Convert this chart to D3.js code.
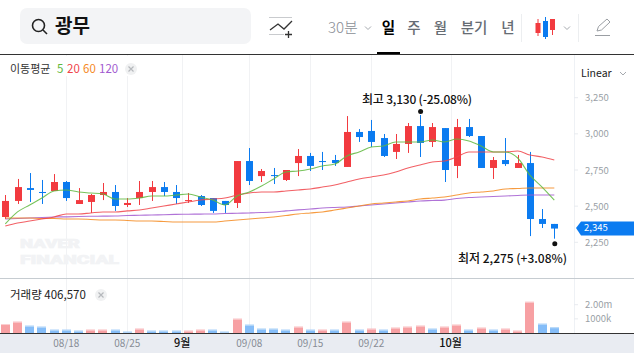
<!DOCTYPE html>
<html><head><meta charset="utf-8">
<script src="https://cdn.jsdelivr.net/npm/d3@7/dist/d3.min.js"></script>
<style>html,body{margin:0;padding:0;background:#fff;overflow:hidden}svg{display:block}text{font-family:"Noto Sans CJK KR","Noto Sans",sans-serif}</style>
</head><body><svg id="c" width="634" height="353"></svg>
<script>
const open_=[2425,2536,2625,2598,2605,2667,2515,2529,2577,2598,2508,2556,2598,2632,2598,2536,2570,2556,2536,2522,2812,2708,2715,2681,2798,2847,2812,2819,2771,3013,3020,2971,2875,2930,3054,2944,3040,2778,3047,2985,2764,2819,2764,2798,2411,2377];
const high=[2577,2688,2729,2681,2722,2674,2625,2584,2660,2646,2556,2674,2674,2667,2646,2591,2577,2556,2536,2812,2902,2757,2764,2750,2895,2868,2875,2854,3123,3033,3096,2999,2999,3075,3130,3075,3040,3103,3103,2985,2840,2971,2854,2875,2480,2377];
const low=[2411,2515,2529,2515,2605,2536,2515,2453,2542,2467,2494,2508,2536,2570,2515,2522,2501,2453,2453,2487,2646,2667,2653,2674,2708,2743,2750,2778,2771,2944,2909,2840,2826,2868,2840,2909,2667,2694,2978,2764,2688,2778,2764,2293,2349,2275];
const close_=[2536,2632,2612,2591,2667,2556,2542,2577,2598,2501,2522,2598,2632,2598,2556,2542,2508,2467,2508,2812,2674,2743,2708,2750,2847,2778,2805,2798,3013,2978,2944,2847,2930,3054,2937,3047,2750,3047,2985,2764,2819,2791,2798,2411,2377,2345];
const ma5=[2377,2460,2508,2556,2605,2612,2598,2591,2584,2549,2549,2556,2570,2570,2577,2584,2563,2542,2508,2570,2598,2639,2688,2736,2743,2757,2778,2791,2847,2875,2909,2916,2944,2944,2944,2957,2944,2964,2951,2916,2875,2875,2833,2715,2632,2542];
const ma20=[2363,2383,2397,2411,2425,2446,2446,2453,2460,2460,2467,2473,2487,2501,2515,2529,2542,2549,2556,2577,2591,2598,2598,2605,2612,2619,2632,2646,2667,2688,2702,2715,2736,2764,2785,2805,2812,2840,2875,2875,2875,2875,2881,2854,2840,2819];
const ma60=[2418,2418,2418,2415,2415,2411,2411,2408,2404,2404,2401,2397,2397,2394,2390,2390,2390,2390,2397,2404,2411,2418,2425,2435,2446,2453,2460,2473,2487,2501,2515,2522,2529,2536,2549,2556,2563,2577,2591,2598,2605,2619,2622,2626,2626,2626];
const ma120=[2411,2415,2418,2422,2425,2426,2428,2430,2431,2432,2435,2437,2439,2441,2443,2444,2445,2446,2449,2451,2453,2456,2460,2467,2474,2480,2487,2491,2494,2501,2508,2515,2522,2529,2536,2539,2542,2553,2560,2563,2567,2570,2574,2577,2577,2577];
const volume=[634000,796000,514000,444000,232000,232000,162000,232000,232000,232000,92000,303000,162000,162000,162000,162000,232000,232000,92000,1007000,585000,303000,303000,232000,444000,232000,232000,232000,796000,232000,303000,232000,373000,444000,514000,303000,444000,585000,232000,373000,232000,303000,162000,2204000,655000,406570];
const volUp=[1,1,0,0,0,0,0,1,1,0,0,1,0,0,0,1,1,0,0,1,0,0,0,0,1,0,1,0,1,0,1,0,1,1,1,0,1,1,0,1,0,1,1,1,0,0];
const priceTicks=[2250,2500,2750,3000,3250];
const priceLabels=["2,250","2,500","2,750","3,000","3,250"];
const volTicks=[1000000,2000000];
const volLabels=["1000k","2.00m"];
const dateTicks=[[5,"08/18",0],[10,"08/25",0],[14.5,"9월",1],[20,"09/08",0],[25,"09/15",0],[30,"09/22",0],[36.5,"10월",1]];
const tabs=[["일",388.5,1],["주",414,0],["월",440.5,0],["분기",474,0],["년",508,0]];
const maLegend=[["5",57,"#5fb83e"],["20",67,"#f0444a"],["60",83,"#f58a1f"],["120",99,"#a25bd0"]];

const RED="#f23a3f",BLUE="#0b7bf0";
const svg=d3.select("#c");
const x=d3.scaleLinear().domain([0,45]).range([5.3,554.3]);
const y=d3.scaleLinear().domain([2250,3250]).range([242.3,97.7]);
const yv=d3.scaleLinear().domain([0,2000000]).range([333,304.7]);

// header
svg.append("rect").attr("x",20).attr("y",8).attr("width",231).attr("height",36).attr("rx",7).attr("fill","#f3f4f6");
const sg=svg.append("g").attr("fill","none").attr("stroke","#222").attr("stroke-width",1.6);
sg.append("circle").attr("cx",38.5).attr("cy",25.5).attr("r",6);
sg.append("line").attr("x1",43).attr("y1",30).attr("x2",47).attr("y2",34);
svg.append("text").attr("x",55).attr("y",33).attr("font-size",19).attr("font-weight",700).attr("fill","#111").text("광무");
// indicator icon
const ig=svg.append("g").attr("fill","none");
ig.append("line").attr("x1",269).attr("x2",292).attr("y1",17.5).attr("y2",17.5).attr("stroke","#c9cbce");
ig.append("line").attr("x1",269).attr("x2",284).attr("y1",34.5).attr("y2",34.5).attr("stroke","#c9cbce");
ig.append("path").attr("d",d3.line()([[270,30],[278,24],[284,29],[292,21]])).attr("stroke","#333").attr("stroke-width",1.3);
ig.append("path").attr("d","M288.5 31v7M285 34.5h7").attr("stroke","#333").attr("stroke-width",1.3);
svg.append("text").attr("x",328).attr("y",33).attr("font-size",15).attr("fill","#8a8f96").attr("font-weight",300).text("30분");
const chev=(cx)=>svg.append("path").attr("d",`M${cx-3} 26.5l3 3l3-3`).attr("fill","none").attr("stroke","#a5a9ae").attr("stroke-width",1);
chev(368);chev(567);
svg.selectAll(".tab").data(tabs).join("text").attr("x",d=>d[1]).attr("y",33).attr("text-anchor","middle")
 .attr("font-size",14.5).attr("font-weight",d=>d[2]?700:500).attr("fill",d=>d[2]?"#000":"#666c73").text(d=>d[0]);
svg.append("rect").attr("x",377).attr("y",52).attr("width",23).attr("height",3).attr("fill","#000");
svg.append("line").attr("x1",521.5).attr("x2",521.5).attr("y1",14).attr("y2",42).attr("stroke","#eceef0");
svg.append("line").attr("x1",578.5).attr("x2",578.5).attr("y1",14).attr("y2",42).attr("stroke","#eceef0");
// candle icon
[[538,19,23,36,"#f23a3f",23,33],[545.5,17,21,39,"#0b7bf0",21,37],[552.5,19,19,35,"#f23a3f",19,30]].forEach(c=>{
  svg.append("line").attr("x1",c[0]).attr("x2",c[0]).attr("y1",c[1]).attr("y2",c[3]).attr("stroke",c[4]);
  svg.append("rect").attr("x",c[0]-2.5).attr("y",c[5]).attr("width",5).attr("height",c[6]-c[5]).attr("fill",c[4]);
});
// pencil icon
svg.append("path").attr("d","M597 31l1.5-4.5l8.5-7.5l3 3l-8.5 8z M595 35.5h15").attr("fill","none").attr("stroke","#9a9ea3").attr("stroke-width",1);

// frame
svg.append("rect").attr("x",0).attr("y",333).attr("width",634).attr("height",20).attr("fill","#e9ecf2");
const gridXs=dateTicks.map(d=>d[0]);
svg.selectAll(".grid").data(gridXs).join("line").attr("x1",d=>Math.round(x(d))+.5).attr("x2",d=>Math.round(x(d))+.5)
 .attr("y1",55).attr("y2",333).attr("stroke","#f1f2f4");
svg.append("line").attr("x1",574.5).attr("x2",574.5).attr("y1",55).attr("y2",333).attr("stroke","#eef1f5");
svg.append("rect").attr("x",0).attr("y",56).attr("width",138).attr("height",20).attr("fill","#fff");
svg.append("line").attr("x1",0).attr("x2",634).attr("y1",54.5).attr("y2",54.5).attr("stroke","#333").attr("stroke-width",1);
svg.append("line").attr("x1",0).attr("x2",634).attr("y1",278.5).attr("y2",278.5).attr("stroke","#c6ccd1");
svg.append("line").attr("x1",0).attr("x2",634).attr("y1",333.5).attr("y2",333.5).attr("stroke","#333");

// watermark
[["NAVER",248,60],["FINANCIAL",264,99]].forEach(([t,py,len])=>{
  svg.append("text").attr("x",20).attr("y",py).style("font-family","Roboto").attr("font-size",13).attr("font-weight",900)
   .attr("textLength",len).attr("lengthAdjust","spacingAndGlyphs").attr("fill","#f2f3f5").attr("stroke","#f2f3f5").attr("stroke-width",.7).text(t);
});

// volumes
const idx=d3.range(volume.length);
svg.selectAll(".vb").data(idx).join("rect").attr("x",i=>Math.round(x(i)-4.5)).attr("width",9)
 .attr("y",i=>yv(volume[i])).attr("height",i=>333-yv(volume[i]))
 .attr("fill",i=>volUp[i]?"#f7a0a3":"#85bdf8");
svg.selectAll(".vc").data(idx).join("rect").attr("x",i=>Math.round(x(i)-4.5)).attr("width",9)
 .attr("y",i=>yv(volume[i])).attr("height",1)
 .attr("fill",i=>volUp[i]?"#fbcfd1":"#c2def9");

// candles
const colr=i=>close_[i]>=open_[i]?RED:BLUE;
svg.selectAll(".w").data(idx).join("line").attr("x1",i=>Math.round(x(i))+.5).attr("x2",i=>Math.round(x(i))+.5)
 .attr("y1",i=>y(high[i])).attr("y2",i=>y(low[i])).attr("stroke",colr);
svg.selectAll(".b").data(idx).join("rect").attr("x",i=>Math.round(x(i))-3).attr("width",7)
 .attr("y",i=>y(Math.max(open_[i],close_[i]))).attr("height",i=>Math.max(1,Math.abs(y(open_[i])-y(close_[i])))).attr("fill",colr);

// moving averages
const line=d3.line().x((d,i)=>x(i)).y(d=>y(d)).curve(d3.curveMonotoneX);
[[ma120,"#a25bd0"],[ma60,"#f58a1f"],[ma20,"#f0444a"],[ma5,"#5fb83e"]].forEach(([s,c])=>{
  svg.append("path").datum(s).attr("d",line).attr("fill","none").attr("stroke",c).attr("stroke-width",1.1).attr("stroke-opacity",.85);
});

// hi/lo markers
const iHi=high.indexOf(d3.max(high)), iLo=low.indexOf(d3.min(low));
svg.append("circle").attr("cx",x(iHi)+.5).attr("cy",y(high[iHi])-3.5).attr("r",2.5).attr("fill","#111");
svg.append("circle").attr("cx",x(iLo)+.5).attr("cy",y(low[iLo])+5).attr("r",2.5).attr("fill","#111");
svg.append("text").attr("x",362).attr("y",103.5).attr("font-size",12).attr("font-weight",500).attr("textLength",110).attr("fill","#111").text("최고 3,130 (-25.08%)");
svg.append("text").attr("x",458).attr("y",263).attr("font-size",12).attr("font-weight",500).attr("textLength",109).attr("fill","#111").text("최저 2,275 (+3.08%)");

// right axis
const rAxis=svg.append("g").attr("font-size",9.5).attr("fill","#9a9fa6");
priceTicks.forEach((t,i)=>{
  rAxis.append("line").attr("x1",574).attr("x2",578).attr("y1",y(t)).attr("y2",y(t)).attr("stroke","#e8ebef");
  rAxis.append("text").attr("x",585).attr("y",y(t)+3.5).text(priceLabels[i]);
});
volTicks.forEach((t,i)=>{
  rAxis.append("line").attr("x1",574).attr("x2",578).attr("y1",yv(t)).attr("y2",yv(t)).attr("stroke","#e8ebef");
  rAxis.append("text").attr("x",585).attr("y",yv(t)+3.5).text(volLabels[i]);
});
svg.append("text").attr("x",581).attr("y",77).attr("font-size",10.5).attr("fill","#222").text("Linear");
svg.append("path").attr("d","M620 72l3 3l3-3").attr("fill","none").attr("stroke","#a5a9ae");
const ty=y(close_[close_.length-1]);
svg.append("path").attr("d",`M576 ${ty-0.5}l5-6.5h53v14h-53z`).attr("fill",BLUE);
svg.append("text").attr("x",584).attr("y",ty+2.5).attr("font-size",9.5).attr("fill","#fff").text("2,345");

// legend
svg.append("text").attr("x",10).attr("y",73).attr("font-size",11).attr("fill","#333").text("이동평균");
maLegend.forEach(([t,px,c])=>{
  svg.append("text").attr("x",px).attr("y",73).attr("font-size",11.5).attr("fill",c).text(t);
});
const closeBtn=(cx,cy)=>{svg.append("circle").attr("cx",cx).attr("cy",cy).attr("r",6).attr("fill","#f0f1f2");
  svg.append("path").attr("d",`M${cx-2.5} ${cy-2.5}l5 5M${cx+2.5} ${cy-2.5}l-5 5`).attr("stroke","#b5b8bc").attr("stroke-width",1.2);};
closeBtn(131,69);
svg.append("text").attr("x",10).attr("y",299).attr("font-size",11.5).attr("fill","#222").text("거래량 406,570");
closeBtn(101,295);

// date labels
svg.selectAll(".d").data(dateTicks).join("text").attr("x",d=>x(d[0])).attr("y",347).attr("text-anchor","middle")
 .attr("font-size",d=>d[2]?11:10).attr("font-weight",d=>d[2]?500:400).attr("fill",d=>d[2]?"#111":"#878c96").text(d=>d[1]);
</script></body></html>
